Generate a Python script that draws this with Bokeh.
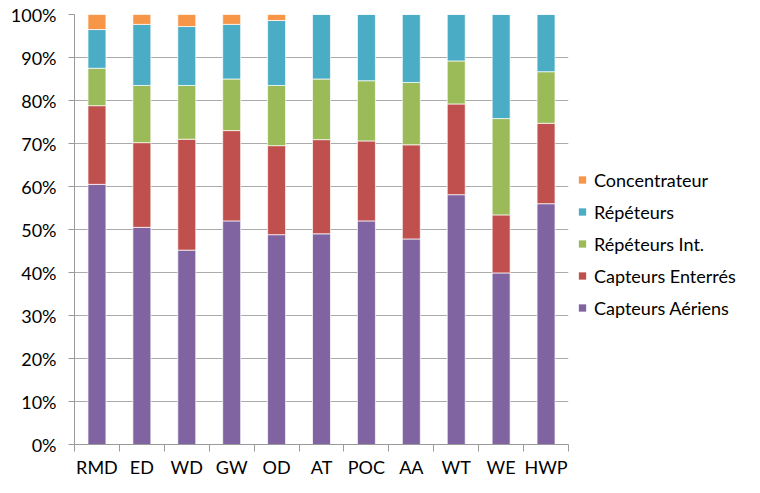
from bokeh.plotting import figure
from bokeh.models import (ColumnDataSource, Range1d, FixedTicker, PrintfTickFormatter,
                          Legend, LegendItem)
from bokeh.embed import file_html
from bokeh.resources import INLINE

categories = ["RMD", "ED", "WD", "GW", "OD", "AT", "POC", "AA", "WT", "WE", "HWP"]
capteurs_aeriens = [60.5, 50.5, 45.2, 52.0, 48.8, 49.0, 52.0, 47.8, 58.1, 39.9, 56.0]
capteurs_enterres = [18.3, 19.7, 25.8, 21.0, 20.7, 21.9, 18.6, 21.9, 21.1, 13.5, 18.7]
repeteurs_int = [8.7, 13.3, 12.5, 12.0, 14.0, 14.1, 14.0, 14.5, 10.0, 22.4, 12.0]
repeteurs = [9.0, 14.2, 13.7, 12.7, 15.1, 15.0, 15.4, 15.8, 10.8, 24.2, 13.3]
concentrateur = [3.5, 2.3, 2.8, 2.3, 1.4, 0.0, 0.0, 0.0, 0.0, 0.0, 0.0]
y_ticks = [0, 10, 20, 30, 40, 50, 60, 70, 80, 90, 100]

series_names = ["Capteurs Aériens", "Capteurs Enterrés", "Répéteurs Int.", "Répéteurs", "Concentrateur"]
series_keys = ["aer", "ent", "rint", "rep", "conc"]
colors = ["#8064A2", "#C0504D", "#9BBB59", "#4BACC6", "#F79646"]

FONT = "Lato"
FS = "18px"

centers = [i + 0.5 for i in range(len(categories))]
bounds = list(range(len(categories) + 1))

source = ColumnDataSource(data=dict(
    x=centers,
    aer=capteurs_aeriens,
    ent=capteurs_enterres,
    rint=repeteurs_int,
    rep=repeteurs,
    conc=concentrateur,
))

p = figure(frame_width=494, frame_height=430, output_backend="svg", toolbar_location=None,
           x_range=Range1d(0, len(categories)), y_range=Range1d(0, 100),
           min_border_left=74, min_border_right=0, min_border_top=14, min_border_bottom=30)
p.outline_line_color = None
p.background_fill_color = "white"
p.border_fill_color = "white"

renderers = p.vbar_stack(series_keys, x="x", width=0.4, source=source,
                         color=colors, line_color="white", line_width=1, line_alpha=0.7)

# grid
p.xgrid.grid_line_color = None
p.ygrid.ticker = FixedTicker(ticks=y_ticks)
p.ygrid.grid_line_color = "#ababab"
p.ygrid.grid_line_width = 1

# y axis
p.yaxis.ticker = FixedTicker(ticks=y_ticks)
p.yaxis.formatter = PrintfTickFormatter(format="%d%%")
p.yaxis.axis_line_color = "#9a9a9a"
p.yaxis.major_tick_line_color = "#9a9a9a"
p.yaxis.major_tick_out = 6
p.yaxis.major_tick_in = 0
p.yaxis.minor_tick_line_color = None
p.yaxis.major_label_standoff = 12
p.yaxis.major_label_text_font = FONT
p.yaxis.major_label_text_font_size = FS
p.yaxis.major_label_text_color = "#000000"

# x axis
p.xaxis.ticker = FixedTicker(ticks=centers, minor_ticks=bounds)
p.xaxis.major_label_overrides = {c: lab for c, lab in zip(centers, categories)}
p.xaxis.axis_line_color = "#9a9a9a"
p.xaxis.major_tick_line_color = None
p.xaxis.major_tick_out = 0
p.xaxis.major_tick_in = 0
p.xaxis.minor_tick_line_color = "#9a9a9a"
p.xaxis.minor_tick_out = 7
p.xaxis.minor_tick_in = 0
p.xaxis.major_label_standoff = 4
p.xaxis.major_label_text_font = FONT
p.xaxis.major_label_text_font_size = FS
p.xaxis.major_label_text_color = "#000000"

items = [LegendItem(label=series_names[i], renderers=[renderers[i]]) for i in reversed(range(5))]
legend = Legend(items=items, location="center_left", orientation="vertical",
                title=" ", title_text_font_size="20px", title_standoff=6,
                glyph_width=10, glyph_height=10, label_height=20, spacing=10,
                label_standoff=7, padding=0, margin=9, border_line_color=None,
                background_fill_alpha=0,
                label_text_font=FONT, label_text_font_size=FS, label_text_color="#000000")
p.add_layout(legend, "right")

open("out.html", "w").write(file_html(p, INLINE))
